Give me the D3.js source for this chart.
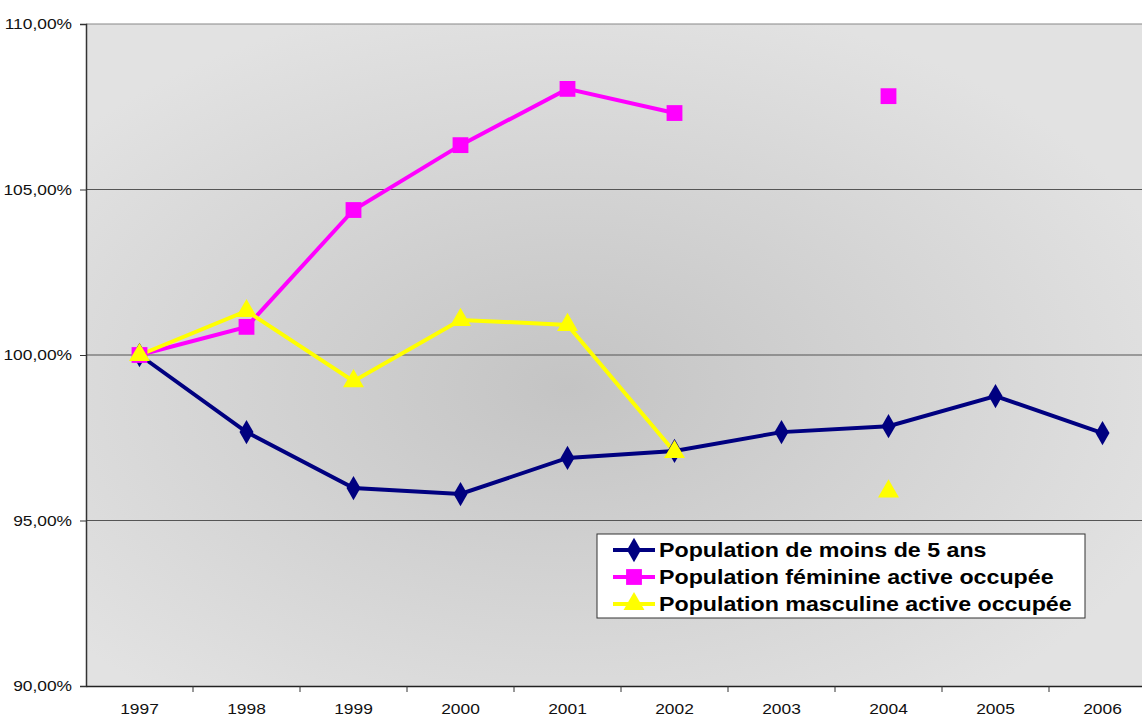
<!DOCTYPE html>
<html>
<head>
<meta charset="utf-8">
<script src="https://cdn.jsdelivr.net/npm/d3@7"></script>
<style>
  body { margin: 0; background: white; }
  svg { display: block; font-family: "Liberation Sans", Arial, sans-serif; }
</style>
</head>
<body>
<svg></svg>
<script>
const years = ["1997", "1998", "1999", "2000", "2001", "2002", "2003", "2004", "2005", "2006"];
const moins5 = [100, 97.67, 95.98, 95.80, 96.89, 97.10, 97.67, 97.85, 98.76, 97.64];
const feminine = [100, 100.85, 104.38, 106.34, 108.04, 107.31, null, 107.82, null, null];
const masculine = [100, 101.33, 99.21, 101.06, 100.91, 97.07, null, 95.88, null, null];
const yTicks = [90, 95, 100, 105, 110];

const series = [
  { name: "Population de moins de 5 ans", values: moins5, color: "#000080", symbol: d3.symbolDiamond, size: 170 },
  { name: "Population féminine active occupée", values: feminine, color: "#FF00FF", symbol: d3.symbolSquare, size: 250 },
  { name: "Population masculine active occupée", values: masculine, color: "#FFFF00", symbol: d3.symbolTriangle, size: 190 }
];

const margin = { top: 24, left: 86 };
const plotW = 1070;
const plotH = 662;

const svg = d3.select("svg")
  .attr("width", 1142)
  .attr("height", 718);

const defs = svg.append("defs");
const grad = defs.append("radialGradient")
  .attr("id", "bg")
  .attr("cx", "0.45").attr("cy", "0.55").attr("r", "0.6");
grad.append("stop").attr("offset", "0%").attr("stop-color", "#c4c4c4");
grad.append("stop").attr("offset", "100%").attr("stop-color", "#e2e2e2");

// stretch text horizontally like the original rendering
function stretch(sel, k) {
  sel.each(function () {
    const w = this.getComputedTextLength();
    d3.select(this).attr("textLength", w * k).attr("lengthAdjust", "spacingAndGlyphs");
  });
}

const chart = svg.append("g")
  .attr("transform", `translate(${margin.left},${margin.top})`);

const x = d3.scaleBand().domain(years).range([0, plotW]);
const y = d3.scaleLinear().domain([90, 110]).range([plotH, 0]);

chart.append("rect")
  .attr("width", plotW)
  .attr("height", plotH)
  .attr("fill", "url(#bg)");

// gridlines
chart.selectAll(".grid")
  .data(yTicks.slice(1))
  .join("line")
  .attr("x1", 0).attr("x2", plotW)
  .attr("y1", d => y(d)).attr("y2", d => y(d))
  .attr("stroke", d => d === 110 ? "#888" : "#555")
  .attr("stroke-width", 1.2);

// y axis
const yAxis = chart.append("g")
  .call(d3.axisLeft(y).tickValues(yTicks).tickSize(6).tickPadding(8)
    .tickFormat(d => d3.format(".2f")(d).replace(".", ",") + "%"));
yAxis.select(".domain").attr("stroke", "#333").attr("stroke-width", 1.5);
yAxis.selectAll(".tick line").attr("stroke", "#333");
yAxis.selectAll("text").style("font-size", "15.5px").attr("fill", "#111").call(stretch, 1.12);

// x axis
const xAxis = chart.append("g")
  .attr("transform", `translate(0,${plotH})`)
  .call(d3.axisBottom(x).tickSize(0).tickPadding(17));
xAxis.select(".domain").attr("stroke", "#222").attr("stroke-width", 1.5);
xAxis.selectAll("text").style("font-size", "15.5px").attr("fill", "#111").call(stretch, 1.12);
xAxis.selectAll(".sep")
  .data(years)
  .join("line")
  .attr("x1", d => x(d) + x.bandwidth())
  .attr("x2", d => x(d) + x.bandwidth())
  .attr("y1", 0).attr("y2", 6)
  .attr("stroke", "#333");

const cx = d => x(d) + x.bandwidth() / 2;

const line = d3.line()
  .defined(d => d.v !== null)
  .x(d => cx(d.year))
  .y(d => y(d.v));

series.forEach(s => {
  const pts = years.map((yr, i) => ({ year: yr, v: s.values[i] }));
  chart.append("path")
    .datum(pts)
    .attr("fill", "none")
    .attr("stroke", s.color)
    .attr("stroke-width", 4)
    .attr("d", line);
});

series.forEach(s => {
  const pts = years.map((yr, i) => ({ year: yr, v: s.values[i] })).filter(d => d.v !== null);
  chart.selectAll(null)
    .data(pts)
    .join("path")
    .attr("transform", d => `translate(${cx(d.year)},${y(d.v)})`)
    .attr("d", d3.symbol().type(s.symbol).size(s.size))
    .attr("fill", s.color);
});

// legend
const legend = svg.append("g").attr("transform", "translate(597,534)");
legend.append("rect")
  .attr("width", 488)
  .attr("height", 84)
  .attr("fill", "white")
  .attr("stroke", "#333")
  .attr("stroke-width", 1);

series.forEach((s, i) => {
  const row = legend.append("g").attr("transform", `translate(0,${16 + i * 27})`);
  row.append("line")
    .attr("x1", 16).attr("x2", 58)
    .attr("stroke", s.color).attr("stroke-width", 4);
  row.append("path")
    .attr("transform", "translate(37,0)")
    .attr("d", d3.symbol().type(s.symbol).size(s.size))
    .attr("fill", s.color);
  row.append("text")
    .attr("x", 62)
    .attr("y", 7)
    .style("font-size", "19.5px")
    .style("font-weight", "bold")
    .attr("fill", "#000")
    .text(s.name)
    .call(stretch, 1.19);
});
</script>
</body>
</html>
